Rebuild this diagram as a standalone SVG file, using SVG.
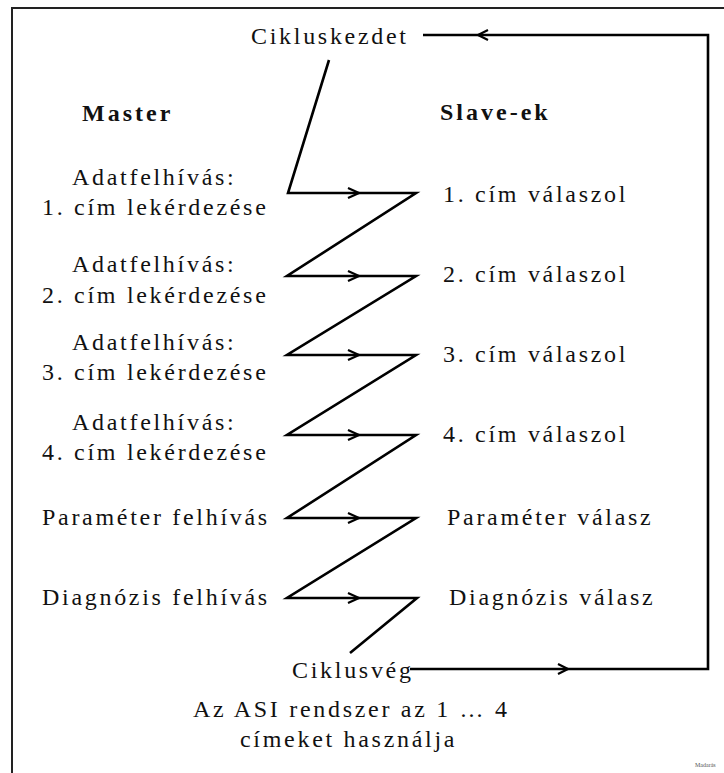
<svg xmlns="http://www.w3.org/2000/svg" width="724" height="773" viewBox="0 0 724 773">
<style>
text{font-family:'Liberation Serif','DejaVu Serif','Times New Roman',serif}
.t{font-size:24px;letter-spacing:2.7px;fill:#111}
.b{font-weight:bold;letter-spacing:3px}
.ln{fill:none;stroke:#000;stroke-width:2.6;stroke-linejoin:miter;stroke-linecap:butt}
.ah{fill:none;stroke:#000;stroke-width:2.2;stroke-linejoin:miter}
</style>
<rect x="12" y="8" width="730" height="780" fill="#fff" stroke="#222" stroke-width="2"/>
<g id="connectors">
<path class="ln" d="M329,60 L288,193 L416,193 L287,276 L416,276 L287,355 L416,355 L287,435 L416,435 L287,518 L416,518 L287,598 L417,598 L350,653"/>
<path class="ln" d="M410,669 L708,669 L708,35 L423,35" stroke-width="3"/>
<g class="ah">
<path d="M348,188 L359,193 L348,198"/>
<path d="M348,271 L359,276 L348,281"/>
<path d="M348,350 L359,355 L348,360"/>
<path d="M348,430 L359,435 L348,440"/>
<path d="M348,513 L359,518 L348,523"/>
<path d="M348,593 L359,598 L348,603"/>
<path d="M558,664 L568,669 L558,674"/>
<path d="M488,30 L478,35 L488,40"/>
</g>
</g>
<g id="start"><text class="t" x="251" y="44" font-family="Liberation Serif, serif">Cikluskezdet</text></g>
<g id="master"><text class="t b" x="82" y="121">Master</text></g>
<g id="slaves"><text class="t b" x="440" y="120">Slave-ek</text></g>
<g id="m1"><text class="t" x="72" y="185">Adatfelhívás:</text><text class="t" x="42" y="215">1. cím lekérdezése</text></g>
<g id="m2"><text class="t" x="72" y="272">Adatfelhívás:</text><text class="t" x="42" y="303">2. cím lekérdezése</text></g>
<g id="m3"><text class="t" x="72" y="350">Adatfelhívás:</text><text class="t" x="42" y="380">3. cím lekérdezése</text></g>
<g id="m4"><text class="t" x="72" y="430">Adatfelhívás:</text><text class="t" x="42" y="460">4. cím lekérdezése</text></g>
<g id="m5"><text class="t" x="42" y="525">Paraméter felhívás</text></g>
<g id="m6"><text class="t" x="42" y="605">Diagnózis felhívás</text></g>
<g id="s1"><text class="t" x="443" y="202">1. cím válaszol</text></g>
<g id="s2"><text class="t" x="443" y="282">2. cím válaszol</text></g>
<g id="s3"><text class="t" x="443" y="362">3. cím válaszol</text></g>
<g id="s4"><text class="t" x="443" y="442">4. cím válaszol</text></g>
<g id="s5"><text class="t" x="447" y="525">Paraméter válasz</text></g>
<g id="s6"><text class="t" x="449" y="605">Diagnózis válasz</text></g>
<g id="end"><text class="t" x="292" y="678">Ciklusvég</text></g>
<g id="note"><text class="t" x="193" y="717">Az ASI rendszer az 1 … 4</text><text class="t" x="240" y="747">címeket használja</text></g>
<text x="695" y="767" font-size="6" fill="#555">Madarás</text>
</svg>
